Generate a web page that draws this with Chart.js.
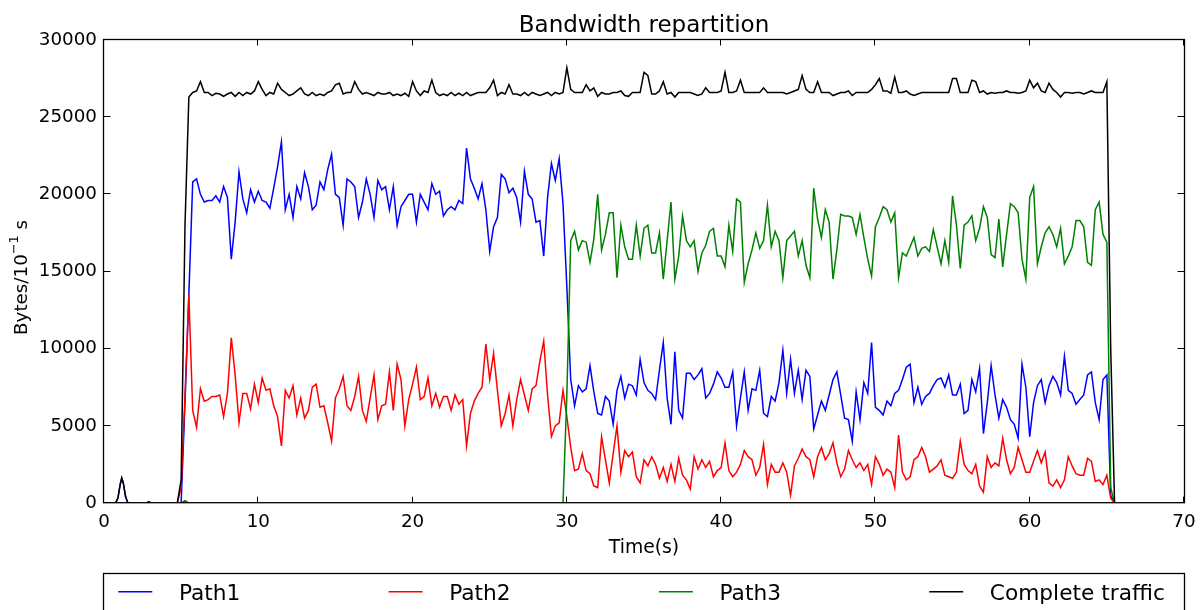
<!DOCTYPE html>
<html lang="en">
<head>
<meta charset="UTF-8">
<title>Bandwidth repartition</title>
<script src="https://cdn.jsdelivr.net/npm/chart.js@4.4.1/dist/chart.umd.min.js"></script>
<style>
*{margin:0;padding:0}
body{background:#fff;width:1204px;height:610px;overflow:hidden}
#wrap{width:1204px;height:610px}
</style>
</head>
<body>
<div id="wrap"><canvas id="bw" width="1204" height="610"></canvas></div>
<script>
// startup phase (before the transfer): irregular sample times
const startTimes   = [0, 0.75, 0.9, 1.05, 1.15, 1.25, 1.4, 1.55, 2.75, 2.9, 3.05, 4.75];
const startTraffic = [0, 0, 300, 1200, 1620, 1300, 400, 0, 0, 80, 0, 0];
const startPath1   = [0, 0, 300, 1200, 1620, 1300, 400, 0, 0, 80, 0, 0];
const startPath2   = [0, 0, 0, 0, 0, 0, 0, 0, 0, 0, 0, 0];
const startPath3   = [0, 0, 0, 0, 0, 0, 0, 0, 0, 0, 0, 0];

// transfer phase: one sample every 0.25 s from t = 5 s
const sampleStart = 5.0;
const sampleStep = 0.25;

const path1 = [
  0, 6500, 13500, 20800, 21000, 20000, 19500, 19600, 19600, 19900,
  19500, 20500, 19800, 15800, 18200, 21450, 19700, 18800, 20300, 19500,
  20200, 19600, 19500, 19100, 20400, 21800, 23400, 19000, 20000, 18500,
  20500, 19700, 21400, 20500, 19000, 19300, 20800, 20300, 21600, 22600,
  20000, 19800, 18000, 21000, 20800, 20500, 18500, 19500, 21000, 20000,
  18500, 20900, 20300, 20500, 19000, 20500, 18000,
  19200, 19600, 20000, 20000, 18200, 20000, 19500, 19000, 20700, 20000,
  20200, 18600, 19000, 19200, 19000, 19600, 19400, 23000, 21000, 20400,
  19700, 20700, 19000, 16300, 17900, 18500, 21300, 21000, 20100, 20400,
  19800, 18200, 21500, 20000, 19700, 18200, 18300, 16000, 19800, 22000,
  20900, 22300, 19400, 14000, 8000, 6300, 7600, 7200, 7400, 8900,
  7200, 5800, 5700, 6900, 6600, 5100,
  7300, 8200, 6800, 7700, 7600, 7000, 9300, 7800, 7300, 7100,
  6700, 8600, 10400, 6800, 5100, 9800, 6000, 5500, 8400, 8400,
  8000, 8300, 8700, 6800, 7100, 7700, 8500, 8100, 7500, 7500,
  8500, 5000, 6800, 8500, 6000, 7400, 7300, 8600, 5800, 5600,
  6900, 6600, 7800, 9900, 7100, 9300, 7100, 8600, 6700, 8600,
  8200, 4800, 5700, 6600, 6000, 7000,
  8000, 8500, 7000, 5500, 5400, 4000, 7200, 5400, 7800, 7100,
  10400, 6200, 6000, 5700, 6600, 6300, 7100, 7300, 8000, 8800,
  9000, 6500, 7500, 6400, 6900, 7100, 7600, 8000, 8100, 7500,
  8300, 7000, 7000, 7700, 5800, 6000, 8000, 7200, 8700, 4500,
  6500, 8900, 7000, 5500, 6700, 6200, 5400, 5100, 4200, 9000,
  7500, 4300, 6500, 7600, 8000, 6500,
  7600, 8200, 7800, 7000, 9500, 7300, 7100, 6400, 6700, 7000,
  8300, 8500, 6500, 5400, 8000, 8300, 500, 0, 0
];

const path2 = [
  1000, 7000, 13500, 6000, 4900, 7400, 6600, 6700, 6900, 6900,
  7000, 5600, 7100, 10700, 8300, 5200, 7100, 7100, 6100, 7700,
  6500, 8100, 7300, 7400, 6300, 5600, 3700, 7300, 6800, 7600,
  5700, 6800, 5500, 6000, 7500, 7700, 6200, 6300, 5200, 4000,
  6800, 7400, 8200, 6300, 6000, 6900, 8200, 6000, 5300, 6800,
  8300, 5400, 6300, 6400, 8500, 6000, 9000,
  8000, 5000, 6700, 7700, 8800, 6700, 6900, 8100, 6300, 7100,
  6200, 6900, 6900, 6000, 7000, 6400, 6700, 3700, 5800, 6600,
  7100, 7500, 10300, 8000, 9700, 7300, 5000, 5800, 7000, 5000,
  6700, 8000, 7000, 6000, 7400, 7600, 9200, 10500, 7000, 4300,
  5000, 5200, 7300, 5600, 3600, 2100, 2200, 3200, 2100, 1900,
  1100, 1000, 4300, 2800, 1300, 3200,
  5000, 2000, 3400, 3000, 3300, 1700, 1300, 2800, 2400, 3000,
  2500, 1600, 2300, 1400, 2500, 1400, 2900, 1800, 1500, 900,
  3000, 2200, 2800, 2300, 2700, 1700, 2100, 2300, 3900, 2100,
  1700, 2000, 2500, 3400, 3000, 2800, 1800, 2300, 3800, 1200,
  2500, 2000, 2000, 2600, 2000, 500, 2400, 2900, 3500, 3000,
  2800, 1700, 3000, 3600, 2800, 3200,
  3900, 2600, 1700, 2200, 3400, 2800, 2300, 2600, 2100, 2500,
  1200, 3000, 2500, 1800, 2200, 2000, 1000, 4400, 2000, 1500,
  1700, 2800, 3000, 3600, 3000, 2000, 2200, 2400, 2800, 1800,
  1700, 1600, 2000, 4000, 2500, 2100, 1900, 2500, 1100, 700,
  3000, 2300, 2600, 2400, 4200, 2800, 1900, 2300, 3600, 2800,
  2000, 2000, 2700, 3400, 2600, 3300,
  1300, 1100, 1500, 1000, 1500, 3000, 2400, 1900, 1800, 1800,
  2900, 2700, 1400, 1500, 1200, 1800, 300, 0, 0
];

const path3 = [
  0, 150, 0, 0, 0, 0, 0, 0, 0, 0,
  0, 0, 0, 0, 0, 0, 0, 0, 0, 0,
  0, 0, 0, 0, 0, 0, 0, 0, 0, 0,
  0, 0, 0, 0, 0, 0, 0, 0, 0, 0,
  0, 0, 0, 0, 0, 0, 0, 0, 0, 0,
  0, 0, 0, 0, 0, 0, 0,
  0, 0, 0, 0, 0, 0, 0, 0, 0, 0,
  0, 0, 0, 0, 0, 0, 0, 0, 0, 0,
  0, 0, 0, 0, 0, 0, 0, 0, 0, 0,
  0, 0, 0, 0, 0, 0, 0, 0, 0, 0,
  0, 0, 0, 7000, 17000, 17600, 16400, 17000, 16900, 15600,
  17100, 20000, 16400, 17400, 18800, 18800,
  14600, 18000, 16600, 15800, 15800, 18000, 16000, 17800, 18000, 16200,
  16200, 17500, 14500, 17000, 19500, 14500, 16000, 18600, 17000, 16600,
  17000, 15000, 16200, 16700, 17600, 17800, 16000, 16000, 15300, 18000,
  16300, 19700, 19500, 14300, 15500, 16400, 17500, 16500, 17000, 19300,
  16600, 17600, 17000, 14600, 17000, 17300, 17600, 16000, 17000, 15400,
  14600, 20400, 18400, 17200, 19000, 18200,
  14500, 16400, 18700, 18600, 18600, 18500, 17400, 18700, 17200, 15800,
  14700, 17900, 18500, 19200, 19000, 18200, 18800, 14600, 16200, 16000,
  16600, 17200, 16000, 16500, 16600, 16300, 17700, 16600, 15500, 17000,
  15600, 19900, 18000, 15200, 18000, 18200, 18600, 17000, 17800, 19200,
  18500, 16100, 15900, 18400, 15300, 17400, 19400, 19200, 18800, 15800,
  14500, 19800, 20500, 15500, 16600, 17500,
  17900, 17400, 16600, 17800, 15500, 16000, 16600, 18300, 18300, 17900,
  15600, 15400, 19000, 19500, 17400, 16900, 1000, 0, 0
];

const traffic = [
  1500, 18000, 26300, 26600, 26700, 27300, 26600, 26600, 26400, 26550,
  26500, 26350, 26500, 26600, 26350, 26600, 26400, 26600, 26500, 26700,
  27300, 26800, 26400, 26600, 26500, 27200, 26800, 26600, 26400, 26500,
  26700, 26900, 26500, 26400, 26600, 26400, 26500, 26400, 26600, 26700,
  27100, 27200, 26500, 26600, 26600, 27300, 26800, 26500, 26600, 26500,
  26400, 26600, 26500, 26500, 26600, 26400, 26500,
  26400, 26550, 26350, 27300, 26700, 26400, 26700, 26600, 27400, 26600,
  26400, 26500, 26400, 26600, 26400, 26550, 26400, 26600, 26400, 26500,
  26600, 26600, 26600, 26900, 27400, 26400, 26600, 26500, 27100, 26500,
  26500, 26400, 26600, 26400, 26600, 26500, 26400, 26500, 26600, 26400,
  26600, 26500, 26600, 28200, 26800, 26600, 26600, 26600, 27100, 26700,
  26900, 26350, 26600, 26500, 26500, 26600,
  26600, 26700, 26400, 26350, 26600, 26600, 26600, 27900, 27700, 26500,
  26500, 26700, 27300, 26500, 26600, 26300, 26600, 26600, 26600, 26600,
  26500, 26400, 26500, 26900, 26600, 26600, 26600, 26700, 27900, 26600,
  26600, 26700, 27400, 26600, 26600, 26600, 26600, 26600, 26900, 26600,
  26600, 26600, 26600, 26600, 26500, 26600, 26700, 26800, 27700, 26800,
  26600, 26600, 27300, 26600, 26600, 26600,
  26400, 26500, 26600, 26600, 26700, 26400, 26600, 26600, 26600, 26600,
  26800, 27100, 27500, 26700, 26700, 26550, 27600, 26600, 26600, 26700,
  26500, 26400, 26500, 26600, 26600, 26600, 26600, 26600, 26600, 26600,
  26600, 27500, 27500, 26600, 26600, 26600, 27400, 27300, 26600, 26700,
  26500, 26600, 26550, 26600, 26600, 26700, 26600, 26600, 26550, 26600,
  26700, 27400, 26900, 27200, 26700, 26600,
  27200, 26800, 26600, 26300, 26600, 26600, 26550, 26600, 26600, 26500,
  26600, 26700, 26600, 26600, 26600, 27300, 10000, 0, 0
];

const labels = ['Path1', 'Path2', 'Path3', 'Complete traffic'];
const colors = ['#0000ff', '#ff0000', '#008000', '#000000'];
const xTicks = { min: 0, max: 70, step: 10 };
const yTicks = { min: 0, max: 30000, step: 5000 };

const FONT = "'DejaVu Sans', 'Bitstream Vera Sans', sans-serif";

function points(startVals, vals) {
  const head = startTimes.map((t, i) => ({ x: t, y: startVals[i] }));
  const body = vals.map((v, i) => ({ x: sampleStart + i * sampleStep, y: v }));
  return head.concat(body);
}

const series = [
  points(startPath1, path1),
  points(startPath2, path2),
  points(startPath3, path3),
  points(startTraffic, traffic),
];

// matplotlib-like frame: box, inward ticks, title, axis labels, legend
const frame = {
  id: 'frame',
  afterDraw(chart) {
    const { ctx, chartArea: a, scales: { x, y } } = chart;
    const L = a.left - 0.5, R = a.right + 0.5, T = a.top - 0.5, B = a.bottom - 0.3;
    ctx.save();
    ctx.strokeStyle = '#000';
    ctx.lineWidth = 1.3;
    ctx.strokeRect(L, T, R - L, B - T);

    ctx.lineWidth = 1;
    ctx.beginPath();
    x.ticks.forEach(t => {
      const px = Math.round(x.getPixelForValue(t.value)) - 0.5;
      ctx.moveTo(px, B); ctx.lineTo(px, B - 6);
      ctx.moveTo(px, T); ctx.lineTo(px, T + 6);
    });
    y.ticks.forEach(t => {
      const py = Math.round(y.getPixelForValue(t.value)) - 0.5;
      ctx.moveTo(L, py); ctx.lineTo(L + 7, py);
      ctx.moveTo(R, py); ctx.lineTo(R - 7, py);
    });
    ctx.stroke();

    ctx.fillStyle = '#000';
    ctx.textAlign = 'center';
    ctx.textBaseline = 'alphabetic';
    ctx.font = '23px ' + FONT;
    ctx.fillText('Bandwidth repartition', (a.left + a.right) / 2, 32);
    ctx.font = '18.8px ' + FONT;
    ctx.fillText('Time(s)', (a.left + a.right) / 2, 552.5);

    // y label with superscript exponent
    const parts = [
      { t: 'Bytes/10', size: 18.3, dy: 0 },
      { t: '\u22121', size: 12.8, dy: -8.5 },
      { t: ' s', size: 18.3, dy: 0 },
    ];
    let total = 0;
    parts.forEach(p => { ctx.font = p.size + 'px ' + FONT; p.w = ctx.measureText(p.t).width; total += p.w; });
    ctx.translate(26.5, 277.5);
    ctx.rotate(-Math.PI / 2);
    ctx.textAlign = 'left';
    let cx = -total / 2;
    parts.forEach(p => { ctx.font = p.size + 'px ' + FONT; ctx.fillText(p.t, cx, p.dy); cx += p.w; });
    ctx.setTransform(1, 0, 0, 1, 0, 0);

    // legend below the axes, four columns
    ctx.lineWidth = 1.3;
    ctx.strokeStyle = '#000';
    ctx.strokeRect(L, 573.5, R - L, 60);
    ctx.font = '21.7px ' + FONT;
    chart.data.datasets.forEach((ds, i) => {
      const x0 = 118.3 + 270.3 * i;
      ctx.strokeStyle = ds.borderColor;
      ctx.lineWidth = 1.5;
      ctx.beginPath();
      ctx.moveTo(x0, 591.7); ctx.lineTo(x0 + 34, 591.7);
      ctx.stroke();
      ctx.fillStyle = '#000';
      ctx.fillText(ds.label, x0 + 60.6, 600);
    });
    ctx.restore();
  }
};

new Chart(document.getElementById('bw'), {
  type: 'line',
  data: {
    datasets: series.map((pts, i) => ({
      label: labels[i],
      data: pts,
      borderColor: colors[i],
      backgroundColor: colors[i],
      borderWidth: 1.5,
      pointRadius: 0,
      tension: 0,
      fill: false,
      clip: { left: 0, top: 0, right: 0, bottom: -1 },
      order: 3 - i,
    }))
  },
  options: {
    responsive: false,
    animation: false,
    events: [],
    layout: { padding: { left: 0, right: 20, top: 40, bottom: 0 } },
    plugins: { legend: { display: false }, tooltip: { enabled: false }, title: { display: false } },
    scales: {
      x: {
        type: 'linear',
        min: xTicks.min, max: xTicks.max,
        grid: { display: false, drawTicks: false },
        border: { display: false },
        ticks: { stepSize: xTicks.step, padding: 8, maxRotation: 0, color: '#000',
                 font: { family: FONT, size: 18.3 }, callback: v => String(v) },
        afterFit: s => { s.height = 107; },
      },
      y: {
        min: yTicks.min, max: yTicks.max,
        grid: { display: false, drawTicks: false },
        border: { display: false },
        ticks: { stepSize: yTicks.step, padding: 7, color: '#000',
                 font: { family: FONT, size: 18.3 }, callback: v => String(v) },
        afterFit: s => { s.width = 104; },
      },
    },
  },
  plugins: [frame],
});
</script>
</body>
</html>
